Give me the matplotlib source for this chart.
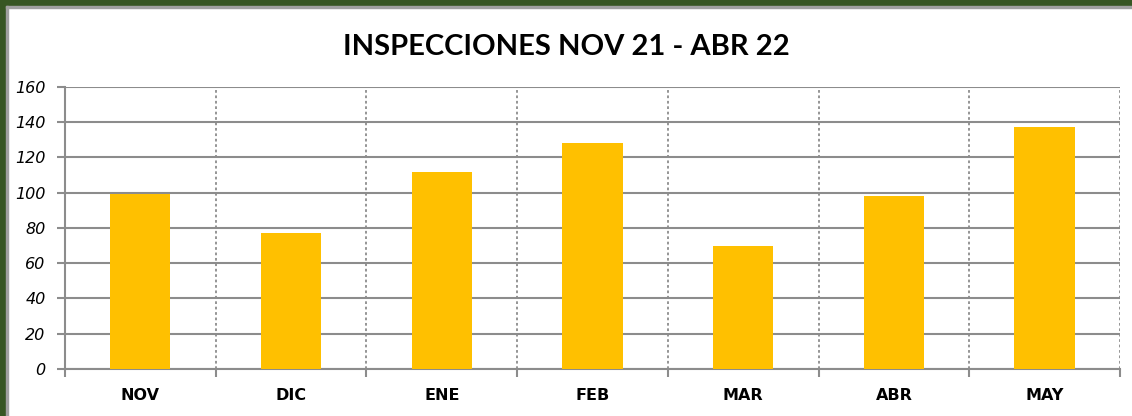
import numpy as np
import matplotlib.pyplot as plt
from matplotlib.patches import Rectangle

# Data
months = ["NOV", "DIC", "ENE", "FEB", "MAR", "ABR", "MAY"]
inspections = [99, 77, 112, 128, 70, 98, 137]
y_ticks = [0, 20, 40, 60, 80, 100, 120, 140, 160]

grid_color = "#8c8c8c"
bar_color = "#ffc000"

fig = plt.figure(figsize=(11.32, 4.16), dpi=100)
ax = fig.add_axes([0.0574, 0.113, 0.9320, 0.678])

x = np.arange(len(months))
ax.bar(x, inspections, width=0.4, color=bar_color, zorder=3)

ax.set_xlim(-0.5, len(months) - 0.5)
ax.set_ylim(0, 160)
ax.set_yticks(y_ticks)
ax.set_yticklabels([str(v) for v in y_ticks], fontstyle="italic", fontsize=11.5)
ax.set_xticks(x)
ax.set_xticklabels(months, fontweight="bold", fontsize=11.5)

# Category boundaries: minor ticks + dotted vertical grid
ax.set_xticks(np.arange(len(months) + 1) - 0.5, minor=True)
ax.tick_params(axis="x", which="major", length=0, pad=14)
ax.tick_params(axis="x", which="minor", length=6, width=1.5, color=grid_color)
ax.tick_params(axis="y", length=6, width=1.5, color=grid_color, pad=8)

ax.grid(axis="y", color=grid_color, linewidth=1.5, zorder=1)
ax.grid(axis="x", which="minor", color=grid_color, linestyle=(0, (1.5, 1.5)),
        linewidth=1.3, zorder=1)

for side in ["top", "right"]:
    ax.spines[side].set_visible(False)
for side in ["left", "bottom"]:
    ax.spines[side].set_color(grid_color)
    ax.spines[side].set_linewidth(1.5)

fig.text(0.5, 0.888, "INSPECCIONES NOV 21 - ABR 22", ha="center", va="center",
         fontsize=21, fontweight="bold", family="Lato")

# Dark green frame on top and left edges
W, H = 1132, 416
fig.patches.append(Rectangle((0, 0), 6 / W, 1, transform=fig.transFigure,
                             color="#375623", zorder=10))
fig.patches.append(Rectangle((0, 1 - 6 / H), 1, 6 / H, transform=fig.transFigure,
                             color="#375623", zorder=10))
fig.patches.append(Rectangle((6 / W, 0), 1.5 / W, 1 - 6 / H, transform=fig.transFigure,
                             color="#a0a0a0", zorder=10))
fig.patches.append(Rectangle((6 / W, 1 - 7.5 / H), 1, 1.5 / H, transform=fig.transFigure,
                             color="#a0a0a0", zorder=10))

fig.savefig("out.png", dpi=100)
